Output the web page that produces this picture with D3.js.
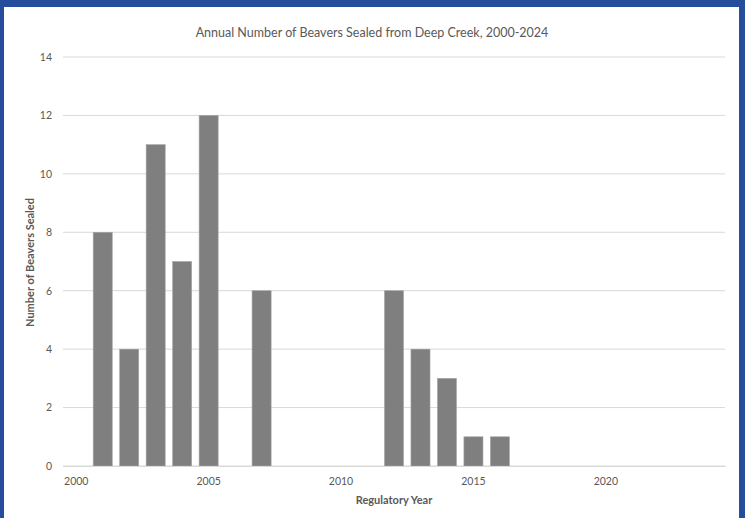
<!DOCTYPE html>
<html>
<head>
<meta charset="utf-8">
<script src="https://cdn.jsdelivr.net/npm/d3@7"></script>
<style>
  body { margin: 0; background: #264d9b; }
  text { font-family: Lato, "Open Sans", sans-serif; }
</style>
</head>
<body>
<div id="chart"></div>
<script>
const years = d3.range(2000, 2025);
const sealed = [0, 8, 4, 11, 7, 12, 0, 6, 0, 0, 0, 0, 6, 4, 3, 1, 1, 0, 0, 0, 0, 0, 0, 0, 0];
const yTicks = [0, 2, 4, 6, 8, 10, 12, 14];
const xLabels = [2000, 2005, 2010, 2015, 2020];

const W = 745, H = 518;
const margin = {top: 57, right: 20, bottom: 52, left: 63};
const width = 725 - margin.left;
const height = 466 - margin.top;

const svg = d3.select('#chart').append('svg')
  .attr('width', W)
  .attr('height', H);

// blue frame + white card
svg.append('rect').attr('width', W).attr('height', H).attr('fill', '#264d9b');
svg.append('rect').attr('x', 4).attr('y', 7).attr('width', 735).attr('height', H - 7).attr('fill', '#fff');

const g = svg.append('g').attr('transform', `translate(${margin.left},${margin.top})`);

const x = d3.scaleBand().domain(years).range([0, width]).paddingInner(0.28).paddingOuter(0.14);
const y = d3.scaleLinear().domain([0, 14]).range([height, 0]);

// gridlines
g.append('g')
  .selectAll('line')
  .data(yTicks)
  .enter().append('line')
    .attr('x1', 0).attr('x2', width)
    .attr('y1', d => y(d)).attr('y2', d => y(d))
    .attr('stroke', '#d9d9d9')
    .attr('stroke-width', 1);

// bars
g.append('g')
  .selectAll('rect')
  .data(years.map((yr, i) => ({yr, v: sealed[i]})).filter(d => d.v > 0))
  .enter().append('rect')
    .attr('x', d => x(d.yr))
    .attr('y', d => y(d.v))
    .attr('width', x.bandwidth())
    .attr('height', d => height - y(d.v))
    .attr('fill', '#7f7f7f')
    .attr('stroke', '#a6a6a6')
    .attr('stroke-width', 0.6);

// y axis labels
const yAxis = d3.axisLeft(y).tickValues(yTicks).tickSize(0).tickPadding(11);
g.append('g').call(yAxis)
  .call(s => s.select('.domain').remove())
  .selectAll('text')
    .attr('fill', '#595959')
    .style('font-size', '10.5px');

// x axis labels
const xAxis = d3.axisBottom(x).tickValues(xLabels).tickSize(0).tickPadding(12);
g.append('g')
  .attr('transform', `translate(0,${height})`)
  .call(xAxis)
  .call(s => s.select('.domain').attr('stroke', '#d9d9d9'))
  .selectAll('text')
    .attr('fill', '#595959')
    .style('font-size', '10.5px');

// title
svg.append('text')
  .attr('x', 372).attr('y', 37)
  .attr('text-anchor', 'middle')
  .attr('fill', '#595959')
  .style('font-size', '12.5px')
  .text('Annual Number of Beavers Sealed from Deep Creek, 2000-2024');

// axis titles
svg.append('text')
  .attr('x', margin.left + width / 2).attr('y', 504)
  .attr('text-anchor', 'middle')
  .attr('fill', '#595959')
  .style('font-size', '11px')
  .style('font-weight', 'bold')
  .text('Regulatory Year');

svg.append('text')
  .attr('transform', `translate(34,${margin.top + height / 2 + 1}) rotate(-90)`)
  .attr('text-anchor', 'middle')
  .attr('fill', '#595959')
  .style('font-size', '11px')
  .style('font-weight', 'bold')
  .text('Number of Beavers Sealed');
</script>
</body>
</html>
